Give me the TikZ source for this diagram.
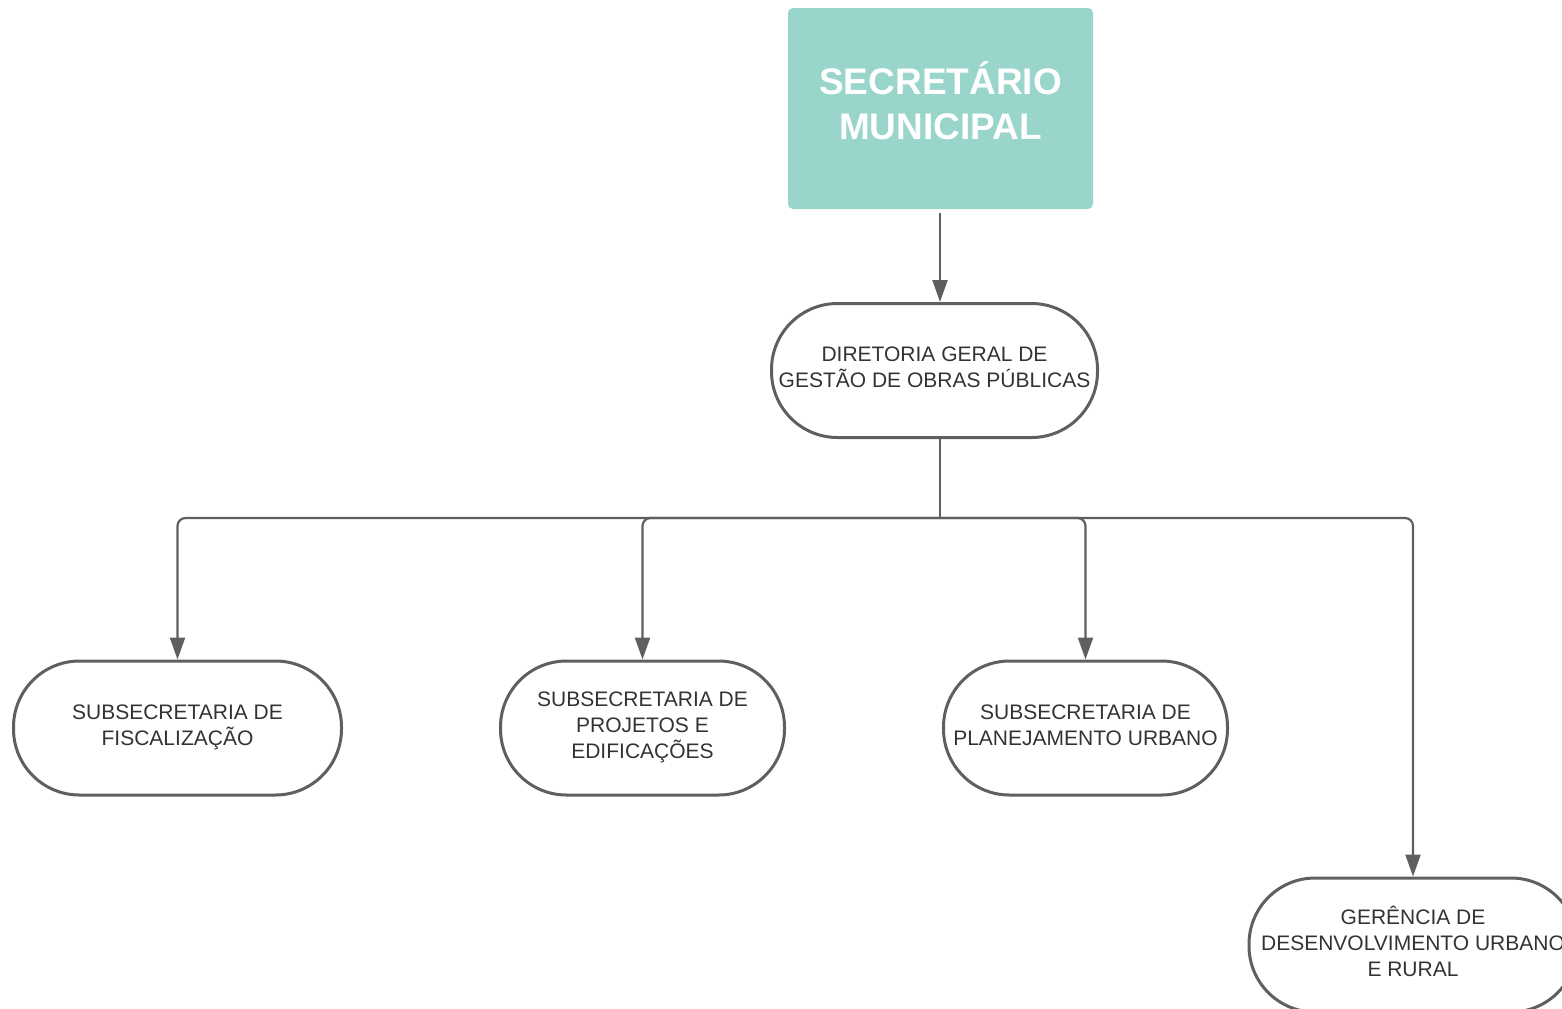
\documentclass[tikz,border=0pt]{standalone}
\usepackage{fontspec}
\setmainfont{Liberation Sans}
\usetikzlibrary{arrows.meta}
\definecolor{boxgreen}{HTML}{9AD5CB}
\definecolor{linegray}{HTML}{5F5F5F}
\definecolor{textgray}{HTML}{333333}
\begin{document}
\begin{tikzpicture}[x=0.5pt, y=-0.5pt,
    unit/.style={draw=linegray, line width=1.5pt, rectangle, rounded corners=33pt,
      minimum height=67pt, align=center, text=textgray, text depth=3pt,
      font=\fontsize{10.5pt}{13pt}\selectfont},
    head/.style={fill=boxgreen, rounded corners=2.5pt, minimum width=152.5pt,
      minimum height=100.5pt, align=center, text=white, text depth=8pt,
      font=\bfseries\fontsize{18.5pt}{22.5pt}\selectfont},
    conn/.style={draw=linegray, line width=1.1pt},
    arr/.style={conn, rounded corners=4pt, -{Triangle[length=11pt, width=7.5pt]}}]
  \clip (0,0) rectangle (1562,1008);
  \useasboundingbox (0,0) rectangle (1562,1008);

  \node[head] (sec) at (940.5,108.5) {SECRETÁRIO\\MUNICIPAL};
  \node[unit, minimum width=163pt] (dir) at (934.5,370.5) {DIRETORIA GERAL DE\\GESTÃO DE OBRAS PÚBLICAS};

  \node[unit, minimum width=164pt] (fisc) at (177.5,728) {SUBSECRETARIA DE\\FISCALIZAÇÃO};
  \node[unit, minimum width=142pt] (proj) at (642.5,728) {SUBSECRETARIA DE\\PROJETOS E\\EDIFICAÇÕES};
  \node[unit, minimum width=142pt] (plan) at (1085.5,728) {SUBSECRETARIA DE\\PLANEJAMENTO URBANO};
  \node[unit, minimum width=164pt, text depth=4pt] (ger) at (1413,945) {GERÊNCIA DE\\DESENVOLVIMENTO URBANO\\E RURAL};

  \coordinate (top) at (940,213);
  \coordinate (stem) at (940,438.5);
  \coordinate (bus) at (940,518);

  \draw[arr] (top) -- (top |- dir.north);
  \draw[conn] (stem) -- (bus);
  \draw[arr] (bus) -| (fisc.north);
  \draw[arr] (bus) -| (proj.north);
  \draw[arr] (bus) -| (plan.north);
  \draw[arr] (bus) -| (ger.north);
\end{tikzpicture}
\end{document}
